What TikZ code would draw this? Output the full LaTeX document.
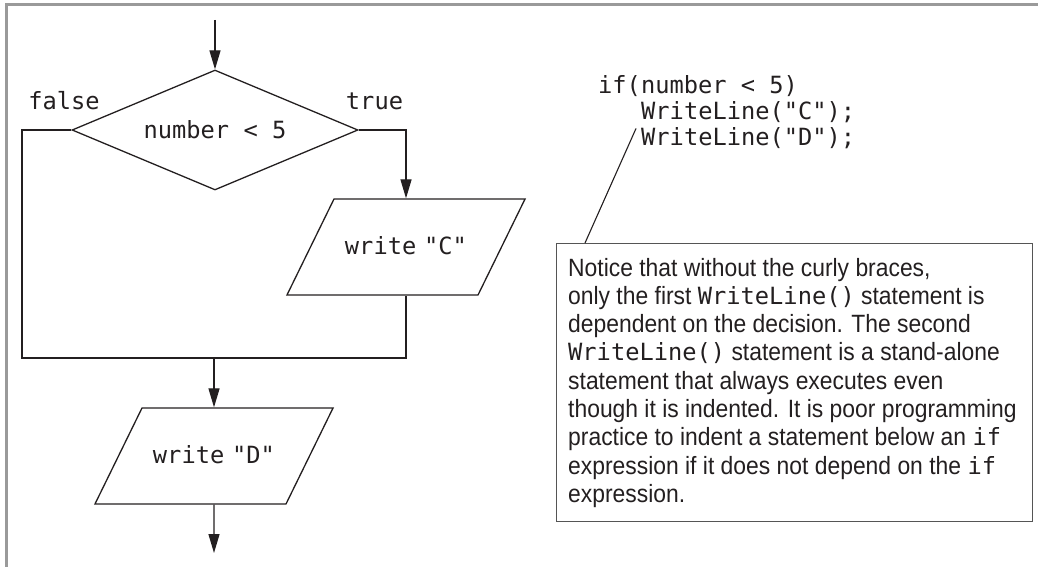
\documentclass[tikz,border=0pt]{standalone}
\usepackage{fontspec}
\setmainfont{Liberation Sans}
\newfontfamily\codefont{DejaVu Sans Mono}
\newfontfamily\notefont[FakeStretch=0.915]{Liberation Sans}
\usetikzlibrary{shapes.geometric,arrows.meta,calc}
\definecolor{ink}{HTML}{231F20}
\definecolor{framegray}{HTML}{9A9A9A}
\definecolor{boxline}{HTML}{555555}
\newcommand\monoword[1]{{\codefont\fontsize{23.7}{28.3}\selectfont #1}}
\begin{document}
\begin{tikzpicture}[x=1pt,y=-1pt,
  flow/.style={draw=ink,line width=1.3pt},
  arr/.style={flow,-{Triangle[length=19pt,width=11pt]}},
  code/.style={font=\codefont\fontsize{23.7}{25.75}\selectfont,text=ink,inner sep=0pt},
  decision/.style={flow,diamond,aspect=2.4,inner sep=0pt,minimum width=286pt,minimum height=120pt,code},
  io/.style={flow,trapezium,trapezium left angle=63.9,trapezium right angle=116.1,
    inner sep=0pt,text width=144pt,align=center,text height=55pt,text depth=41pt,code},
  notebox/.style={draw=boxline,line width=1.3pt,inner sep=0pt,anchor=north west},
  notetext/.style={anchor=base west,inner sep=0pt,text width=466pt,align=flush left,text=ink,font=\notefont\fontsize{25}{28.3}\selectfont},
  framestyle/.style={draw=framegray,line width=2.5pt}
]
\useasboundingbox (0,0) rectangle (1038,567);
\draw[framestyle] (6.3,567) -- (6.3,4.5) -- (1038,4.5);

% flowchart
\node[decision] (dec) at (215,130) {number < 5};
\node[io] (c) at (406,247) {write "C"};
\node[io] (d) at (214,456) {write "D"};
\node[code,anchor=base] (lf) at (64,110) {false};
\node[code,anchor=base] (lt) at (374.5,110) {true};

\coordinate (start) at (215,20);
\coordinate (fb) at (22,358);
\coordinate (mr) at (c.south |- fb);
\coordinate (mid) at (d.north |- fb);
\coordinate (end) at (214,553);

\draw[arr] (start) -- (dec.north);
\draw[arr] (dec.east) -| (c.north);
\draw[flow] (dec.west) -| (fb) -- (mr) -- (c.south);
\draw[arr] (mid) -- (d.north);
\draw[arr] (d.south) -- (end);

% code
\node[code,anchor=base west] (src1) at (598,94) {if(number < 5)};
\node[code,anchor=base west] (src2) at (641,120) {WriteLine("C");};
\node[code,anchor=base west] (src3) at (641,145.5) {WriteLine("D");};

% note
\node[notebox,minimum width=476pt,minimum height=278pt] (note) at (556,243) {};
\node[notetext] (notetxt) at (568,276) {Notice that without the curly braces,\\
only the first \monoword{WriteLine()} statement is\\
dependent on the decision. The second\\
\monoword{WriteLine()} statement is a stand-alone\\
statement that always executes even\\
though it is indented. It is poor programming\\
practice to indent a statement below an \monoword{if}\\
expression if it does not depend on the \monoword{if}\\
expression.};

\coordinate (ptop) at ($(src3.base west)+(-5,-17)$);
\draw[draw=ink,line width=1.1pt] (ptop) -- ($(note.north west)+(29,0)$);
\end{tikzpicture}
\end{document}
